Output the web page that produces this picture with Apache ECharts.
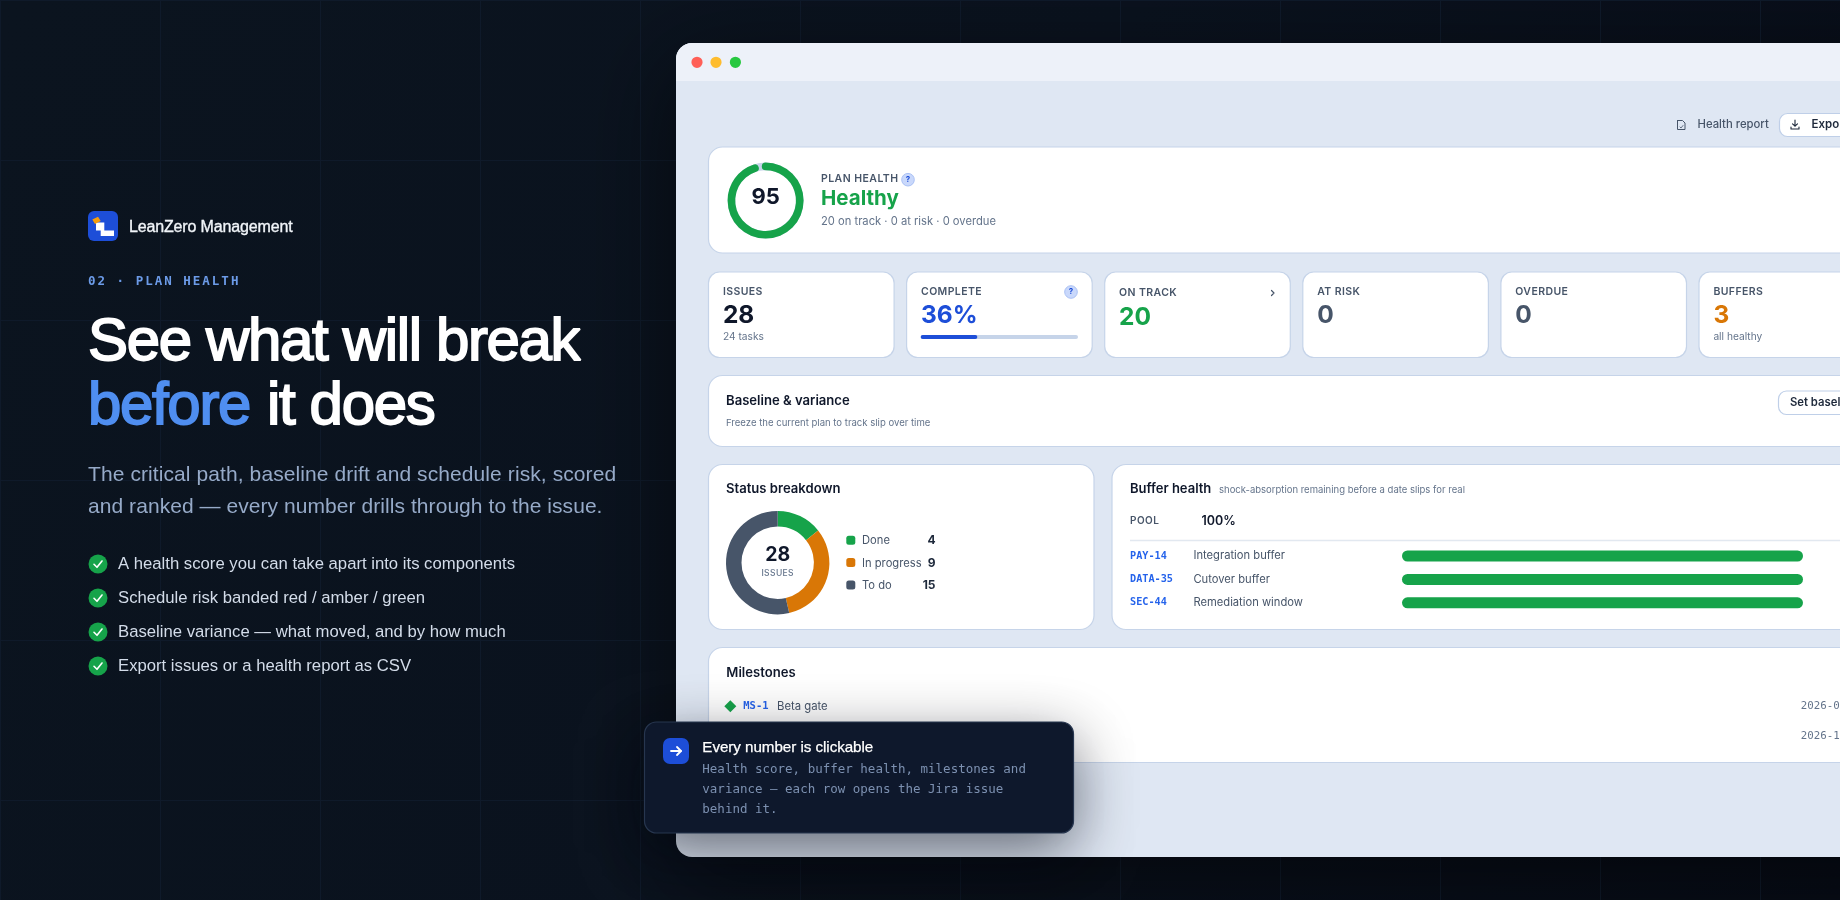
<!DOCTYPE html>
<html><head><meta charset="utf-8">
<style>html,body{margin:0;padding:0;background:#0a121e;overflow:hidden}#c{width:1840px;height:900px}</style>
<script src="https://cdn.jsdelivr.net/npm/echarts@6/dist/echarts.min.js"></script>
</head><body><div id="c"></div>
<script>
// ---------- data ----------
const healthScore = 95;
const healthLabel = 'Healthy';
const completePct = 36;
const statusNames = ['Done', 'In progress', 'To do'];
const statusValues = [4, 9, 15];
const bufferIds = ['PAY-14', 'DATA-35', 'SEC-44'];
const bufferNames = ['Integration buffer', 'Cutover buffer', 'Remediation window'];
const bufferValues = [100, 100, 100];
const kpiLabels = ['ISSUES', 'COMPLETE', 'ON TRACK', 'AT RISK', 'OVERDUE', 'BUFFERS'];
const kpiValues = ['28', '36%', '20', '0', '0', '3'];
const kpiNotes = ['24 tasks', '', '', '', '', 'all healthy'];
const bullets = ['A health score you can take apart into its components', 'Schedule risk banded red / amber / green', 'Baseline variance — what moved, and by how much', 'Export issues or a health report as CSV'];

// ---------- palette ----------
const GREEN = '#16a34a', AMBER = '#d97706', SLATE = '#475569', BLUE = '#1d4ed8', INK = '#0f172a', MUTE = '#64748b', LINK = '#2563eb', BORDER = '#c6d4e9', TRACK = '#c6d4e9';
const statusColors = [GREEN, AMBER, SLATE];
const kpiColors = [INK, BLUE, GREEN, SLATE, SLATE, AMBER];
const SANS = '"Liberation Sans", Arial, sans-serif', UI = 'Inter, sans-serif', MONO = '"DejaVu Sans Mono", monospace';

// letter-spacing per string (the canvas context supports it natively)
const spacing = {
  'See what will break': -1.35, 'before': -1.35, 'it does': -1.35,
  '02 · PLAN HEALTH': 2.0, 'LeanZero Management': -0.15,
  'The critical path, baseline drift and schedule risk, scored': 0.09,
  'and ranked — every number drills through to the issue.': 0.06,
  'PLAN HEALTH': 0.45, 'ISSUES': 0.4, 'COMPLETE': 0.4, 'ON TRACK': 0.4, 'AT RISK': 0.4, 'OVERDUE': 0.4, 'BUFFERS': 0.4, 'POOL': 0.45,
  'Every number is clickable': -0.05
};
const proto = CanvasRenderingContext2D.prototype;
['fillText', 'strokeText'].forEach(fn => {
  const orig = proto[fn];
  proto[fn] = function (t, x, y, m) {
    this.letterSpacing = (spacing[t] || 0) + 'px';
    return m === undefined ? orig.call(this, t, x, y) : orig.call(this, t, x, y, m);
  };
});

// ---------- drawing helpers for the page chrome ----------
const g = [];
const T = (text, x, y, font, fill, align, heavy) => g.push({ type: 'text', z: 5, silent: true, style: Object.assign({ text, x, y, font, fill, textAlign: align || 'left', textVerticalAlign: 'middle' }, heavy ? { stroke: fill, lineWidth: heavy } : {}) });
const R = (x, y, w, h, r, fill, stroke, extra) => g.push({ type: 'rect', z: (extra && extra.z) || 1, silent: true, shape: { x, y, width: w, height: h, r }, style: Object.assign({ fill, stroke: stroke || null, lineWidth: stroke ? 1.2 : 0 }, extra && extra.style) });
const C = (cx, cy, r, fill, stroke, z) => g.push({ type: 'circle', z: z || 3, silent: true, shape: { cx, cy, r }, style: { fill, stroke: stroke || null, lineWidth: stroke ? 1 : 0 } });
const P = (points, stroke, lw, z) => g.push({ type: 'polyline', z: z || 4, silent: true, shape: { points }, style: { stroke, lineWidth: lw, fill: null, lineCap: 'round', lineJoin: 'round' } });
const F = (points, fill, z) => g.push({ type: 'polygon', z: z || 4, silent: true, shape: { points }, style: { fill } });

// background
g.push({ type: 'rect', z: -10, silent: true, shape: { x: 0, y: 0, width: 1840, height: 900 }, style: { fill: { type: 'linear', x: 0, y: 0, x2: 1, y2: 1, colorStops: [{ offset: 0, color: '#0b141f' }, { offset: 0.5, color: '#0a121e' }, { offset: 1, color: '#070c17' }] } } });
for (let x = 0; x <= 1840; x += 160) g.push({ type: 'line', z: -9, silent: true, shape: { x1: x + .5, y1: 0, x2: x + .5, y2: 900 }, style: { stroke: '#0f1a2a', lineWidth: 1 } });
for (let y = 0; y <= 900; y += 160) g.push({ type: 'line', z: -9, silent: true, shape: { x1: 0, y1: y + .5, x2: 1840, y2: y + .5 }, style: { stroke: '#0f1a2a', lineWidth: 1 } });

// left column
R(88, 211, 30, 30, 6, BLUE, null, { z: 3 });
F([[96, 222.5], [104.3, 222.5], [104.3, 230.5], [114, 230.5], [114, 236], [100.7, 236], [100.7, 230.5], [96, 230.5]], '#ffffff', 4);
F([[92.3, 219.5], [98, 216.7], [100.7, 221], [95, 224]], '#f59e0b', 5);
T('LeanZero Management', 129, 228, '16px ' + SANS, '#f1f5f9', 'left', 0.35);
T('02 · PLAN HEALTH', 88, 282, '700 12.5px ' + MONO, '#6c9be8');
T('See what will break', 88, 343.5, '60px ' + SANS, '#ffffff', 'left', 1.8);
T('before', 88, 407.5, '60px ' + SANS, '#4f8ef0', 'left', 1.8);
T('it does', 267, 407.5, '60px ' + SANS, '#ffffff', 'left', 1.8);
T('The critical path, baseline drift and schedule risk, scored', 88, 475, '21px ' + SANS, '#96aac8');
T('and ranked — every number drills through to the issue.', 88, 507, '21px ' + SANS, '#96aac8');
bullets.forEach((b, i) => {
  const y = 564 + i * 34;
  C(98, y, 9.5, GREEN);
  P([[94, y + .3], [97, y + 3.3], [102, y - 3]], '#ffffff', 1.6);
  T(b, 118, y, '16.7px ' + SANS, '#d3dce9');
});

// browser window
R(676, 43, 1300, 814, 16, '#dfe7f3', null, { style: { shadowBlur: 90, shadowOffsetY: 24, shadowColor: 'rgba(0,0,0,0.55)' } });
R(676, 43, 1300, 38, [16, 16, 0, 0], '#edf1f9');
C(697, 62.3, 5.6, '#ff5f57'); C(716, 62.3, 5.6, '#febc2e'); C(735.4, 62.3, 5.6, '#28c840');

// toolbar
P([[1677.5, 120.5], [1682.5, 120.5], [1685, 123], [1685, 129.5], [1677.5, 129.5], [1677.5, 120.5]], SLATE, 1);
P([[1680, 127], [1681, 128], [1683, 125.5]], SLATE, .8);
T('Health report', 1697.5, 125, '500 11.3px ' + UI, SLATE);
R(1779.5, 113.5, 120, 23, 8, '#ffffff', '#bfcfe8');
P([[1795, 120], [1795, 126], [1792.5, 123.8]], '#1e293b', 1.1); P([[1795, 126], [1797.5, 123.8]], '#1e293b', 1.1);
P([[1791, 127], [1791, 129], [1799, 129], [1799, 127]], '#1e293b', 1.1);
T('Export', 1811.5, 125, '600 11.5px ' + UI, '#1e293b');

// health card
R(708.5, 147, 1300, 106, 14, '#ffffff', BORDER);
T(String(healthScore), 765.7, 197, '700 22px ' + UI, INK, 'center');
T('PLAN HEALTH', 821, 179, '600 10.5px ' + UI, SLATE);
C(908, 179.7, 6.3, '#c9d8fb', '#aac1f5');
T('?', 908, 179.7, '700 8px ' + UI, BLUE, 'center');
T(healthLabel, 821, 199, '700 20.5px ' + UI, GREEN);
T('20 on track · 0 at risk · 0 overdue', 821, 221.8, '11.2px ' + UI, MUTE);

// KPI cards
kpiLabels.forEach((l, i) => {
  const x = 708.5 + i * 198.1, lx = x + 14.4, dy = i === 2 ? 2 : 0;
  R(x, 272, 185.6, 85.5, 11, '#ffffff', BORDER);
  T(l, lx, 292 + (i === 2 ? 1 : 0), '600 10.5px ' + UI, SLATE);
  T(kpiValues[i], lx, 315.8 + dy, '700 24.5px ' + UI, kpiColors[i]);
  if (kpiNotes[i]) T(kpiNotes[i], lx, 337, '10.2px ' + UI, MUTE);
});
C(1071, 292, 6.3, '#c9d8fb', '#aac1f5');
T('?', 1071, 292, '700 8px ' + UI, BLUE, 'center');
P([[1271.5, 290.5], [1274, 293], [1271.5, 295.5]], SLATE, 1.2);

// baseline card
R(708.5, 375.5, 1300, 71, 14, '#ffffff', BORDER);
T('Baseline & variance', 726, 401.5, '600 13.1px ' + UI, INK);
T('Freeze the current plan to track slip over time', 726, 423.5, '9.55px ' + UI, MUTE);
R(1778.5, 391, 120, 23.5, 8, '#ffffff', '#bfcfe8');
T('Set baseline', 1790, 402.7, '600 11.3px ' + UI, '#1e293b');

// status card
R(708.5, 464.5, 385.5, 165, 14, '#ffffff', BORDER);
T('Status breakdown', 726, 489.5, '600 13.1px ' + UI, INK);
T('28', 777.7, 555, '700 19.5px ' + UI, INK, 'center');
T('ISSUES', 777.7, 573.3, '500 8.5px ' + UI, MUTE, 'center');
statusNames.forEach((n, i) => {
  const y = 540.2 + i * 22.4;
  R(846.3, y - 4.5, 9, 9, 2.5, statusColors[i], null, { z: 3 });
  T(n, 862, y + .8, '11.2px ' + UI, SLATE);
  T(String(statusValues[i]), 935.5, y + .3, '700 12px ' + UI, '#1e293b', 'right');
});

// buffer card
R(1112, 464.5, 900, 165, 14, '#ffffff', BORDER);
T('Buffer health', 1130, 489, '600 13px ' + UI, INK);
T('shock-absorption remaining before a date slips for real', 1219, 490, '9.5px ' + UI, MUTE);
T('POOL', 1130, 521.2, '600 10px ' + UI, SLATE);
T('100%', 1201.5, 521.5, '600 12.5px ' + UI, INK);
g.push({ type: 'line', z: 2, silent: true, shape: { x1: 1130, y1: 540.5, x2: 1900, y2: 540.5 }, style: { stroke: '#e2e8f0', lineWidth: 1.4 } });
bufferIds.forEach((id, i) => {
  const y = 556 + i * 23.4;
  T(id, 1130, y, '600 10.2px ' + MONO, LINK);
  T(bufferNames[i], 1193.4, y, '11.2px ' + UI, SLATE);
});

// milestones card
R(708.5, 647.5, 1300, 115, 14, '#ffffff', BORDER);
T('Milestones', 726.3, 673.5, '600 13.1px ' + UI, INK);
F([[730.3, 700.3], [736.3, 706.3], [730.3, 712.3], [724.3, 706.3]], GREEN);
T('MS-1', 743.3, 706.3, '600 10.5px ' + MONO, LINK);
T('Beta gate', 777, 706.3, '11.3px ' + UI, SLATE);
T('2026-09-30', 1800.7, 706, '10.8px ' + MONO, MUTE);
T('2026-12-15', 1800.7, 736, '10.8px ' + MONO, MUTE);

// floating callout
R(644.5, 722, 429, 111, 12, '#0f192d', '#27364f', { z: 20, style: { shadowBlur: 60, shadowOffsetY: 18, shadowColor: 'rgba(2,6,16,0.55)' } });
g.push({ type: 'rect', z: 21, silent: true, shape: { x: 663, y: 738, width: 26, height: 26, r: 7 }, style: { fill: BLUE } });
g.push({ type: 'polyline', z: 22, silent: true, shape: { points: [[671, 751], [681, 751]] }, style: { stroke: '#fff', lineWidth: 1.8, lineCap: 'round', fill: null } });
g.push({ type: 'polyline', z: 22, silent: true, shape: { points: [[677, 747], [681, 751], [677, 755]] }, style: { stroke: '#fff', lineWidth: 1.8, lineCap: 'round', lineJoin: 'round', fill: null } });
g.push({ type: 'text', z: 22, silent: true, style: { text: 'Every number is clickable', x: 702.3, y: 747.6, font: '15.2px ' + SANS, fill: '#ffffff', stroke: '#ffffff', lineWidth: 0.25, textAlign: 'left', textVerticalAlign: 'middle' } });
[['Health score, buffer health, milestones and', 769.7],
 ['variance — each row opens the Jira issue', 789.7],
 ['behind it.', 809.7]].forEach(([text, y]) =>
  g.push({ type: 'text', z: 22, silent: true, style: { text, x: 702.3, y, font: '12.5px ' + MONO, fill: '#7c90b0', textAlign: 'left', textVerticalAlign: 'middle' } }));

// ---------- chart ----------
const chart = echarts.init(document.getElementById('c'), null, { renderer: 'canvas', width: 1840, height: 900 });
chart.setOption({
  animation: false,
  graphic: { elements: g },
  grid: [
    { left: 920.7, top: 335, width: 157.3, height: 4 },
    { left: 1402, top: 544.3, width: 401, height: 70.2 }
  ],
  xAxis: [
    { gridIndex: 0, type: 'value', min: 0, max: 100, show: false },
    { gridIndex: 1, type: 'value', min: 0, max: 100, show: false }
  ],
  yAxis: [
    { gridIndex: 0, type: 'category', data: ['Complete'], show: false },
    { gridIndex: 1, type: 'category', data: bufferIds, inverse: true, show: false }
  ],
  series: [
    { type: 'gauge', z: 4, center: [765.6, 200.6], radius: 38, startAngle: 90, endAngle: -270, min: 0, max: 100,
      pointer: { show: false }, axisTick: { show: false }, splitLine: { show: false }, axisLabel: { show: false }, title: { show: false }, detail: { show: false },
      axisLine: { lineStyle: { width: 7.6, color: [[1, TRACK]] } },
      progress: { show: true, roundCap: true, width: 7.6, itemStyle: { color: GREEN } },
      data: [{ value: healthScore }] },
    { type: 'pie', z: 4, center: [777.7, 562.7], radius: [36.2, 51.7], startAngle: 90, clockwise: true, label: { show: false }, labelLine: { show: false }, silent: true,
      data: statusNames.map((name, i) => ({ name, value: statusValues[i], itemStyle: { color: statusColors[i] } })) },
    { type: 'bar', z: 4, xAxisIndex: 0, yAxisIndex: 0, barWidth: 4, silent: true, showBackground: true, backgroundStyle: { color: TRACK, borderRadius: 2 }, itemStyle: { color: BLUE, borderRadius: 2 }, data: [completePct] },
    { type: 'bar', z: 4, xAxisIndex: 1, yAxisIndex: 1, barWidth: 11, silent: true, itemStyle: { color: GREEN, borderRadius: 5.5 }, data: bufferValues }
  ]
});
</script></body></html>
